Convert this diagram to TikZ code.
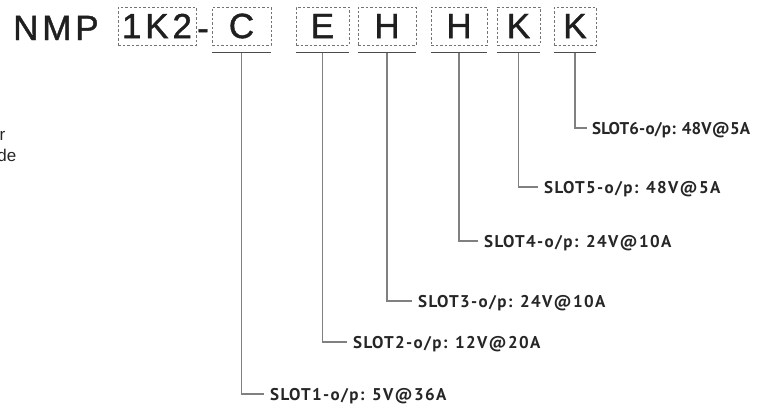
\documentclass[tikz,border=0pt]{standalone}
\usepackage{fontspec}
\setmainfont{Liberation Sans}
\newfontfamily\bigfont[LetterSpace=11,FakeBold=1.2]{Liberation Sans}
\newfontfamily\labfont[LetterSpace=8]{PT Sans}
\newfontfamily\labfonttight[LetterSpace=1]{PT Sans}
\begin{document}
\begin{tikzpicture}[x=1pt,y=-1pt,
  txt/.style={text=black!88},
  code/.style={draw=black!55, dashed, dash pattern=on 2.5pt off 2pt, line width=0.8pt, minimum height=38pt, inner sep=0pt, font=\bigfont\fontsize{35}{35}\selectfont, text=black!88},
  uline/.style={draw=black!70, line width=1.8pt},
  vline/.style={draw=black!50, line width=1.2pt},
  lab/.style={anchor=west, inner xsep=6pt, inner ysep=0pt, text height=12pt, text depth=0pt, font=\labfont\bfseries\fontsize{17}{17}\selectfont, text=black!85},
  labtight/.style={lab, font=\labfonttight\bfseries\fontsize{17}{17}\selectfont},
  frag/.style={anchor=base east, inner sep=0pt, font=\fontsize{17}{17}\selectfont, text=black!85}]
\useasboundingbox (0,0) rectangle (766,405);
\node[txt, anchor=base west, inner sep=0pt, font=\bigfont\fontsize{35}{35}\selectfont] (nmp) at (13,40) {NMP};
\node[code, minimum width=78pt] (b0) at (157,26) {1K2};
\node[txt, inner sep=0pt, font=\bigfont\fontsize{35}{35}\selectfont, anchor=base] (dash) at (203,40) {-};
\node[code, minimum width=59pt] (b1) at (241.5,26) {C};
\node[code, minimum width=53pt] (b2) at (322.5,26) {E};
\node[code, minimum width=58pt] (b3) at (387,26) {H};
\node[code, minimum width=56pt] (b4) at (459,26) {H};
\node[code, minimum width=43pt] (b5) at (518.5,26) {K};
\node[code, minimum width=42pt] (b6) at (575,26) {K};
\node[lab] (l1) at (264,394) {SLOT1-o/p: 5V@36A};
\node[lab] (l2) at (347,342) {SLOT2-o/p: 12V@20A};
\node[lab] (l3) at (412,301) {SLOT3-o/p: 24V@10A};
\node[lab] (l4) at (478,241) {SLOT4-o/p: 24V@10A};
\node[lab] (l5) at (538,187) {SLOT5-o/p: 48V@5A};
\node[labtight, inner xsep=5pt] (l6) at (587,128) {SLOT6-o/p: 48V@5A};
\foreach \i in {1,...,6}{
  \draw[uline] ([yshift=-7pt]b\i.south west) -- ([yshift=-7pt]b\i.south east);
  \draw[vline] ([yshift=-8pt]b\i.south) |- (l\i.west);
}
\node[frag] (f1) at (5.5,140) {r};
\node[frag] (f2) at (16.5,161.5) {de};
\end{tikzpicture}
\end{document}
